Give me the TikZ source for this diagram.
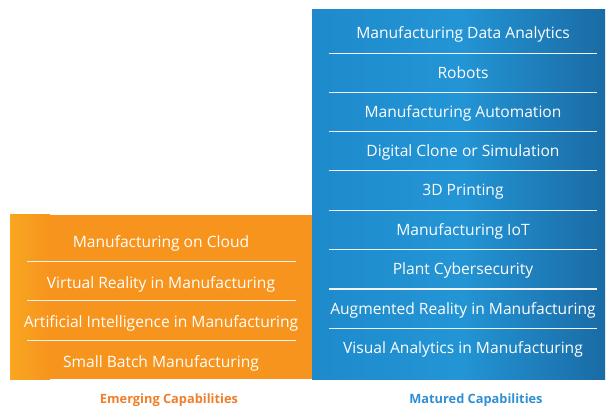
\documentclass[tikz,border=0pt]{standalone}
\usepackage{fontspec}
\setmainfont{Open Sans}
\usetikzlibrary{positioning}
\definecolor{orng}{HTML}{F7941D}
\definecolor{orngL}{HTML}{F9A622}
\definecolor{blueL}{HTML}{1E8ACB}
\definecolor{blueM}{HTML}{2395D5}
\definecolor{blueR}{HTML}{1A6BA5}
\definecolor{orngtxt}{HTML}{F07E2A}
\definecolor{bluetxt}{HTML}{2F8FD4}
\tikzset{
  item/.style={text=white, font=\fontsize{15.6}{18}\selectfont, anchor=base, inner sep=0pt},
  sep/.style={draw=white!90!gray, line width=1pt},
  captxt/.style={font=\fontsize{12.8}{15}\selectfont\bfseries, anchor=base, inner sep=0pt}
}
\begin{document}
\begin{tikzpicture}[x=1pt,y=-1pt]
\useasboundingbox (0,0) rectangle (608,406);
% boxes
\shade[left color=orngL, right color=orng] (10,215) rectangle (50,379);
\fill[orng] (49.5,215) rectangle (312,379);
\shade[left color=blueL, right color=blueM] (312,9.5) rectangle (460,379);
\shade[left color=blueM, right color=blueR] (459.5,9.5) rectangle (605,379);
% orange items
\node[item] (e1) at (161,248) {Manufacturing on Cloud};
\node[item] (e2) at (161,288) {Virtual Reality in Manufacturing};
\node[item] (e3) at (161,327.5) {Artificial Intelligence in Manufacturing};
\node[item] (e4) at (161,367) {Small Batch Manufacturing};
\foreach \y/\n in {262/1,300.5/2,340/3}{
  \coordinate (el\n a) at (27,\y); \coordinate (el\n b) at (296,\y);
  \draw[sep] (el\n a) -- (el\n b);
}
% blue items
\node[item] (m1) at (463,39) {Manufacturing Data Analytics};
\node[item] (m2) at (463,79) {Robots};
\node[item] (m3) at (463,118) {Manufacturing Automation};
\node[item] (m4) at (463,157) {Digital Clone or Simulation};
\node[item] (m5) at (463,196) {3D Printing};
\node[item] (m6) at (463,235.5) {Manufacturing IoT};
\node[item] (m7) at (463,274.5) {Plant Cybersecurity};
\node[item] (m8) at (463,314) {Augmented Reality in Manufacturing};
\node[item] (m9) at (463,353) {Visual Analytics in Manufacturing};
\foreach \y/\n in {54/1,93/2,132/3,171/4,210.5/5,250/6,289/7,328/8}{
  \coordinate (ml\n a) at (329,\y); \coordinate (ml\n b) at (597,\y);
  \draw[sep] (ml\n a) -- (ml\n b);
}
% captions
\node[captxt, text=orngtxt] (ec) at (169,403.5) {Emerging Capabilities};
\node[captxt, text=bluetxt] (mc) at (476,403.5) {Matured Capabilities};
\end{tikzpicture}
\end{document}
